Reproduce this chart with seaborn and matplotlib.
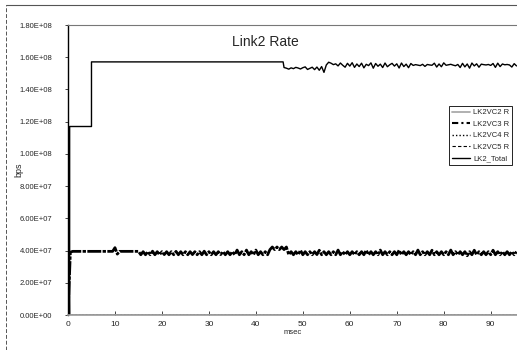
import numpy as np
import pandas as pd
import matplotlib
matplotlib.use("Agg")
import matplotlib.pyplot as plt
import matplotlib.ticker as mticker
from matplotlib.lines import Line2D
import seaborn as sns

# values in units of 1E6 bps, time in msec
total_step_t = [0, 0.35, 0.35, 5.0, 5.0, 45.8]
total_step_v = [0, 0, 117.0, 117.0, 157.1, 157.1]

total_noise_t = np.arange(46.0, 96.0, 0.5)
total_noise_v = [
    153.6, 153.2, 152.6, 153.4, 152.9, 153.7, 153.3, 152.7, 153.5, 154.0,
    152.4, 153.1, 153.8, 152.3, 153.9, 151.9, 154.2, 150.6, 155.2, 156.9,
    156.3, 155.4, 155.9, 154.6, 156.4, 155.0, 153.8, 156.2, 154.5, 156.6,
    153.7, 155.8, 154.2, 156.3, 153.4, 155.6, 154.8, 156.5, 153.2, 156.1,
    154.4, 155.7, 153.6, 156.4, 154.1, 155.3, 156.2, 154.5,
    155.9, 153.3, 156.4, 154.2, 155.7, 153.5, 156.1, 154.9, 155.4, 155.1,
    154.8, 155.6, 154.3, 155.5, 155.2, 155.0, 156.3, 153.9, 155.8, 154.1,
    156.5, 155.0, 155.3, 155.6, 155.1, 154.7, 155.5, 153.6, 156.2, 154.0,
    155.8, 153.2, 156.4, 154.6, 155.9, 153.8, 155.7, 155.4, 155.2, 155.5,
    154.9, 156.1, 153.7, 156.3, 154.2, 155.8, 155.3, 155.5, 155.2, 153.9,
    156.0, 154.6,
]

vc3_t = np.arange(0.0, 96.0, 0.5)
vc3_v = [
    0.0, 39.0,
    39.5, 39.5, 39.5, 39.5, 39.5, 39.5, 39.5, 39.5, 39.5,
    39.5, 39.5, 39.5, 39.5, 39.5, 39.5, 39.5, 39.5, 39.5,
    41.8, 37.8,
    39.5, 39.5, 39.5, 39.5, 39.5, 39.5, 39.5, 39.5, 39.5,
    # 15.5 - 42.5
    37.4, 39.3, 37.4, 39.3, 37.4, 39.6, 37.4, 39.3, 37.4, 39.3,
    37.5, 39.3, 37.4, 39.3, 37.4, 39.5, 37.4, 39.3, 37.4, 39.3,
    37.4, 39.3, 37.5, 39.3, 37.4, 39.3, 37.4, 39.6, 37.4, 39.3,
    37.4, 39.3, 37.4, 39.3, 37.5, 39.3, 37.4, 39.3, 37.4, 39.3,
    37.4, 40.3, 37.4, 39.3, 37.4, 40.3, 37.4, 39.3, 37.4, 40.3,
    37.4, 39.3, 37.4, 39.3, 37.4,
    # 43 - 46.5
    40.6, 42.2, 40.6, 42.2, 40.6, 42.2, 40.6, 42.2,
    # 47 - 95.5
    37.4, 39.3, 37.4, 39.3, 37.4, 40.2, 37.4, 39.3, 37.4, 39.3,
    37.4, 39.3, 37.5, 40.2, 37.4, 39.3, 37.4, 39.3, 37.4, 39.3,
    37.4, 40.3, 37.4, 39.3, 37.4, 39.3, 37.4, 39.3, 37.5, 39.3,
    37.4, 39.3, 37.4, 40.2, 37.4, 39.3, 37.4, 39.3, 37.4, 40.3,
    37.4, 39.3, 37.4, 39.3, 37.4, 39.3, 37.4, 40.2, 37.4, 39.3,
    37.4, 39.3, 37.5, 39.3, 37.4, 40.3, 37.4, 39.3, 37.4, 39.3,
    37.4, 40.2, 37.4, 39.3, 37.4, 39.3, 37.4, 39.3, 37.4, 40.3,
    37.4, 39.3, 37.4, 39.3, 37.4, 39.3, 36.8, 39.3, 37.4, 40.2,
    37.4, 39.3, 37.4, 39.3, 37.4, 39.3, 37.4, 40.2, 37.4, 39.3,
    37.4, 39.3, 37.4, 39.3, 37.4, 39.3, 37.4, 39.3,
]

vc2_t = [0, 0.1, 0.2, 0.4, 95.6]
vc2_v = [0, 88.0, 20.0, 0, 0]
vc4_t = [0, 95.6]
vc4_v = [0, 0]
vc5_t = [0, 95.6]
vc5_v = [0, 0]

y_ticks = np.arange(0, 1.81e8, 2e7)
x_ticks = np.arange(0, 100, 10)

total_t = list(total_step_t) + list(total_noise_t)
total_v = total_step_v + total_noise_v

sns.set_style("white")
plt.rcParams['font.family'] = ['Liberation Sans', 'DejaVu Sans']

fig = plt.figure(figsize=(5.17, 3.5), dpi=100)
ax = fig.add_axes([68 / 517, 35 / 350, 449 / 517, 290 / 350])

series = [
    ("LK2VC2 R", vc2_t, vc2_v, dict(color="#aaaaaa", lw=1.3, ls="-")),
    ("LK2VC3 R", vc3_t, vc3_v, dict(color="black", lw=2.0, dashes=(5, 0.5, 1.2, 0.5))),
    ("LK2VC4 R", vc4_t, vc4_v, dict(color="black", lw=1.0, ls=(0, (1, 1.5)))),
    ("LK2VC5 R", vc5_t, vc5_v, dict(color="black", lw=0.8, ls=(0, (3, 2)))),
    ("LK2_Total", total_t, total_v, dict(color="black", lw=1.0, ls="-")),
]
handles = []
for name, t, v, st in series:
    df = pd.DataFrame({"msec": t, "bps": np.array(v) * 1e6})
    sns.lineplot(data=df, x="msec", y="bps", ax=ax, estimator=None, sort=False,
                 color=st["color"], linewidth=st["lw"])
    line = ax.lines[-1]
    h = Line2D([], [], color=st["color"], lw=min(st["lw"], 1.5))
    if "dashes" in st:
        line.set_dashes(st["dashes"])
        h.set_dashes((3, 1.5, 1, 1.5))
    else:
        line.set_linestyle(st["ls"])
        h.set_linestyle(st["ls"])
    handles.append((h, name))

ax.set_xlim(0, 95.6)
ax.set_ylim(0, 1.8e8)
ax.set_yticks(y_ticks)
ax.set_xticks(x_ticks)
ax.yaxis.set_major_formatter(mticker.FuncFormatter(lambda v, p: f"{v:.2E}"))
ax.tick_params(axis="y", direction="out", length=2.5, width=0.6, pad=9, labelsize=5.5, left=True)
ax.tick_params(axis="x", direction="in", length=3, width=0.6, pad=4, labelsize=6, bottom=True)

ax.set_xlabel("msec", fontsize=5.5, labelpad=1)
ax.set_ylabel("bps", fontsize=6.5)
ax.yaxis.set_label_coords((23 - 68) / 449, 0.5)
ax.text(0.439, 0.941, "Link2 Rate", transform=ax.transAxes, fontsize=10,
        ha="center", va="center")

ax.spines["right"].set_visible(False)
ax.spines["left"].set_color("black")
ax.spines["left"].set_linewidth(1.0)
ax.spines["bottom"].set_color("#999999")
ax.spines["bottom"].set_linewidth(1.2)
ax.spines["top"].set_color("#777777")
ax.spines["top"].set_linestyle((0, (1, 1)))
ax.spines["top"].set_linewidth(0.8)

leg = ax.legend([h for h, _ in handles], [n for _, n in handles],
                loc="upper right", bbox_to_anchor=(0.989, 0.72),
                fontsize=5.5, frameon=True, fancybox=False, framealpha=1,
                edgecolor="black", handlelength=2.4, borderpad=0.35,
                labelspacing=0.55, handletextpad=0.4, borderaxespad=0)
leg.get_frame().set_linewidth(0.6)

# outer chart border of the scanned sheet
fig.add_artist(Line2D([6 / 517, 1], [1 - 5 / 350, 1 - 5 / 350], transform=fig.transFigure,
                      color="#555555", lw=0.8))
fig.add_artist(Line2D([6 / 517, 6 / 517], [0, 1 - 5 / 350], transform=fig.transFigure,
                      color="#555555", lw=0.7, ls=(0, (4, 2))))

fig.savefig("out.png", dpi=100)
